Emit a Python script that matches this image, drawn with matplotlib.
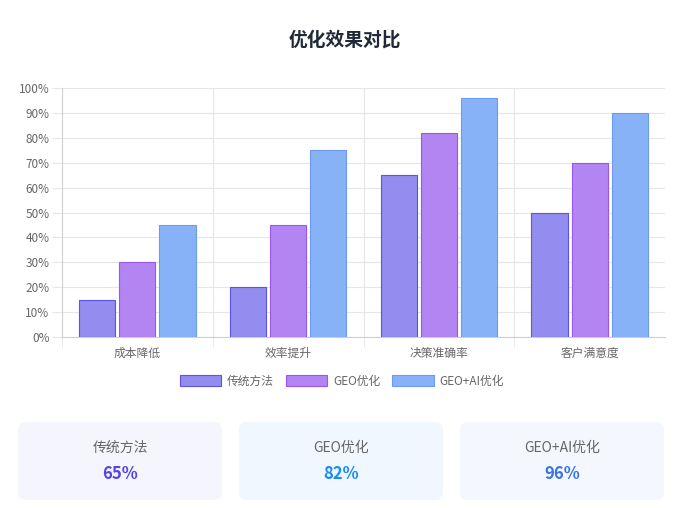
import matplotlib.pyplot as plt
import numpy as np
from matplotlib.patches import FancyBboxPatch, Rectangle

plt.rcParams['font.family'] = ['Noto Sans CJK SC', 'DejaVu Sans']

categories = ['成本降低', '效率提升', '决策准确率', '客户满意度']
series_names = ['传统方法', 'GEO优化', 'GEO+AI优化']
traditional = [15, 20, 65, 50]
geo = [30, 45, 82, 70]
geo_ai = [45, 75, 96, 90]
y_ticks = [0, 10, 20, 30, 40, 50, 60, 70, 80, 90, 100]

card_labels = ['传统方法', 'GEO优化', 'GEO+AI优化']
card_values = ['65%', '82%', '96%']

fills = ['#948df0', '#b385f3', '#88b2f8']
edges = ['#5b52e6', '#9a55ee', '#6b9af2']
card_bg = ['#f5f5fd', '#f0f7ff', '#f4f7fe']
card_fg = ['#4f46e5', '#1a8cf5', '#3b74e6']

W, H = 690, 508
fig = plt.figure(figsize=(W / 100, H / 100), dpi=100)
fig.patch.set_facecolor('white')

# chart area in pixels
left, right, top, bottom = 62, 665, 88, 337
ax = fig.add_axes([left / W, 1 - bottom / H, (right - left) / W, (bottom - top) / H])

x = np.arange(len(categories))
slot = 0.8 / 3
width = slot * 0.9
for i, vals in enumerate([traditional, geo, geo_ai]):
    ax.bar(x + (i - 1) * slot, vals, width, color=fills[i], edgecolor=edges[i],
           linewidth=0.8, zorder=3, label=series_names[i])

ax.set_xlim(-0.5, len(categories) - 0.5)
ax.set_ylim(0, 100)
ax.set_yticks(y_ticks)
ax.set_yticklabels(['%d%%' % v for v in y_ticks])
ax.set_xticks(x)
ax.set_xticklabels(categories)
ax.set_xticks(np.arange(-0.5, len(categories) - 0.5, 1.0), minor=True)

ax.tick_params(axis='y', length=7, color='#e6e6e6', labelsize=8.5, labelcolor='#666666', pad=2)
ax.tick_params(axis='x', which='major', length=0, labelsize=8.5, labelcolor='#666666', pad=7)
ax.tick_params(axis='x', which='minor', length=7, color='#e6e6e6')
ax.grid(axis='y', color='#e6e6e6', linewidth=0.8, zorder=0)
for b in np.arange(0.5, len(categories) - 0.5, 1.0):
    ax.axvline(b, color='#e6e6e6', linewidth=0.8, zorder=0)

for s in ['top', 'right']:
    ax.spines[s].set_visible(False)
for s in ['left', 'bottom']:
    ax.spines[s].set_color('#cfcfcf')
    ax.spines[s].set_linewidth(0.8)

# title
fig.text(0.5, 1 - 40 / H, '优化效果对比', ha='center', va='center',
         fontsize=13.5, fontweight='bold', color='#1f2937')

# legend
handles = [Rectangle((0, 0), 1, 1, facecolor=fills[i], edgecolor=edges[i], linewidth=0.8)
           for i in range(3)]
fig.legend(handles, series_names, loc='center', bbox_to_anchor=(342 / W, 1 - 381 / H),
           ncol=3, frameon=False, fontsize=8.5, handlelength=3.5, handleheight=1.0,
           handletextpad=0.5, columnspacing=1.0, labelcolor='#666666')

# summary cards in a pixel overlay
ov = fig.add_axes([0, 0, 1, 1])
ov.set_xlim(0, W)
ov.set_ylim(H, 0)
ov.axis('off')
ov.patch.set_alpha(0)
card_x = [18, 239, 460]
card_w = 204
for i in range(3):
    ov.add_patch(FancyBboxPatch((card_x[i], 422), card_w, 78,
                                boxstyle='round,pad=0,rounding_size=8',
                                facecolor=card_bg[i], edgecolor='none'))
    cx = card_x[i] + card_w / 2
    ov.text(cx, 448, card_labels[i], ha='center', va='center', fontsize=10, color='#666666')
    ov.text(cx, 474, card_values[i], ha='center', va='center', fontsize=12,
            fontweight='bold', color=card_fg[i])

fig.savefig('out.png', dpi=100)
